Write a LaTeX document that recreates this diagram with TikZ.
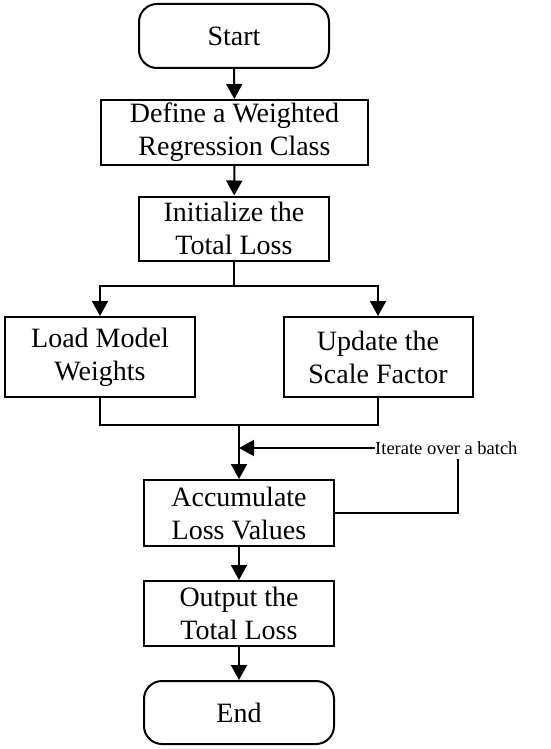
\documentclass[tikz,border=0pt]{standalone}
\usepackage{fontspec}
\setmainfont{Liberation Serif}
\usetikzlibrary{arrows.meta}
\begin{document}
\begin{tikzpicture}[x=1pt,y=-1pt,
  every node/.style={inner sep=0pt},
  base/.style={draw,line width=2pt,align=center,font=\fontsize{28}{33}\selectfont},
  procbox/.style={base},
  termbox/.style={base,rounded corners=18pt},
  conn/.style={line width=2pt},
  arr/.style={conn,-{Triangle[length=15pt,width=16pt]}},
  lbl/.style={font=\fontsize{18.5}{22}\selectfont}]
\useasboundingbox (0,0) rectangle (550,749);
\node[termbox,minimum width=190pt,minimum height=64pt] (start) at (234,36) {Start};
\node[procbox,minimum width=267pt,minimum height=65pt] (define) at (234.5,132.5) {Define a Weighted\\Regression Class};
\node[procbox,minimum width=190pt,minimum height=64pt] (init) at (234,228.5) {Initialize the\\Total Loss};
\node[procbox,minimum width=190pt,minimum height=80pt] (load) at (100,357) {Load Model\\Weights};
\node[procbox,minimum width=189pt,minimum height=80pt] (update) at (378,357) {Update the\\Scale Factor};
\node[procbox,minimum width=190pt,minimum height=66pt] (accum) at (239,513) {Accumulate\\Loss Values};
\node[procbox,minimum width=190pt,minimum height=65pt] (output) at (239,613.5) {Output the\\Total Loss};
\node[termbox,minimum width=190pt,minimum height=63pt] (end) at (239,712.5) {End};
\node[lbl,anchor=west] (iter) at (375,448) {Iterate over a batch};
\coordinate (split) at (234,286);
\coordinate (merge) at (239,425);
\coordinate (join) at (239,448);
\coordinate (loopc) at (458,513);
\coordinate (looptop) at (458,459);

\draw[arr] (start) -- (define);
\draw[arr] (define) -- (init);
\draw[conn] (init.south) -- (split);
\draw[arr] (split) -| (load.north);
\draw[arr] (split) -| (update.north);
\draw[conn] (load.south) |- (merge);
\draw[conn] (update.south) |- (merge);
\draw[arr] (merge) -- (accum.north);
\draw[conn] (accum.east) -- (loopc) -- (looptop);
\draw[arr] (iter.west) -- (join);
\draw[arr] (accum) -- (output);
\draw[arr] (output) -- (end);
\end{tikzpicture}
\end{document}
